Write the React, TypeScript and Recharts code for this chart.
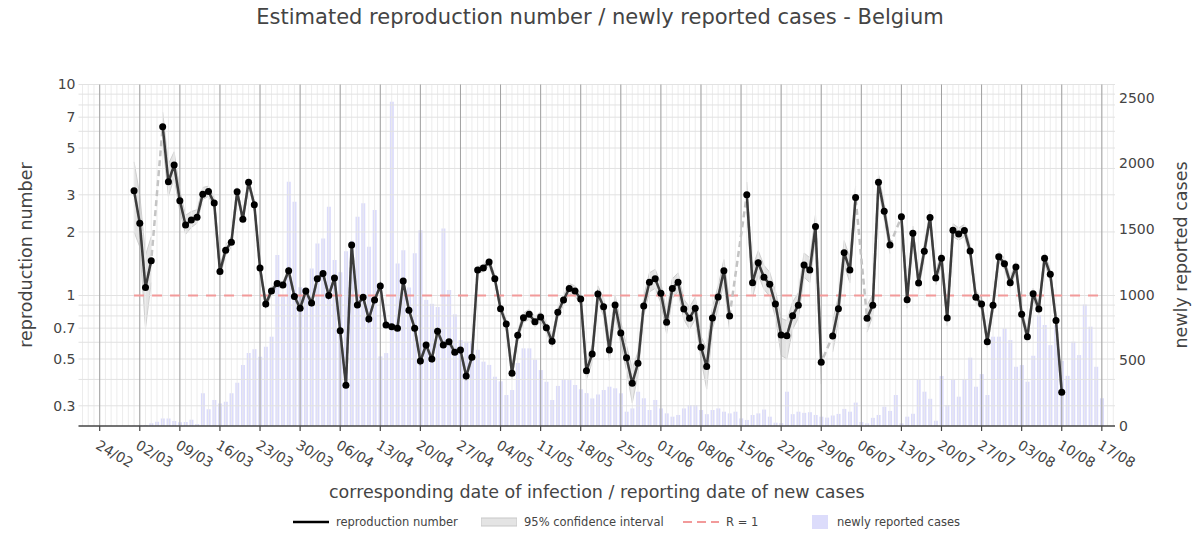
import { ComposedChart, Bar, Line, Area, XAxis, YAxis, ReferenceLine } from 'recharts'

// weekly date ticks, day 0 = 24/02/2020
const tickLabels = ['24/02','02/03','09/03','16/03','23/03','30/03','06/04','13/04','20/04','27/04','04/05','11/05','18/05','25/05','01/06','08/06','15/06','22/06','29/06','06/07','13/07','20/07','27/07','03/08','10/08','17/08']

// newly reported cases, one value per day from 24/02
const cases = [
  0,0,0,0,0,0,2,5,8,20,32,58,58,38,28,30,47,15,249,128,
  198,172,185,249,330,464,555,585,527,603,680,1301,984,1859,1707,1056,1018,1200,1390,1428,
  1669,1263,1170,1330,1410,1593,1695,1364,1644,530,555,2468,1238,1339,1055,1316,1491,960,930,906,
  1504,1035,850,654,642,645,580,490,465,375,340,236,274,480,591,591,505,426,337,198,
  305,356,350,312,280,250,210,240,274,299,287,249,109,134,261,211,122,198,134,96,
  71,84,134,160,160,122,90,122,134,109,96,109,58,46,84,96,125,71,25,22,
  261,90,109,100,105,84,71,64,80,92,130,109,178,30,20,62,84,147,115,236,
  20,71,93,356,261,207,40,380,160,356,223,356,520,299,395,236,680,680,743,654,
  451,464,337,534,845,769,616,768,496,382,642,540,925,756,451,211,
]

// reproduction number from day 6 (01/03) to day 168 (10/08); null = no estimate
const rFirstDay = 6
const rValues = [
  3.14,2.2,1.09,1.46,null,6.31,3.46,4.15,2.81,2.16,2.28,2.35,3.02,3.11,2.74,
  1.3,1.64,1.79,3.1,2.3,3.44,2.69,1.35,0.91,1.05,1.14,1.12,1.31,0.99,0.87,
  1.05,0.92,1.2,1.27,1.0,1.21,0.68,0.375,1.735,0.9,0.98,0.774,0.952,1.11,0.725,
  0.71,0.7,1.17,0.851,0.7,0.489,0.582,0.5,0.676,0.582,0.604,0.538,0.551,0.415,0.51,
  1.32,1.35,1.44,1.2,0.866,0.733,0.428,0.648,0.785,0.814,0.751,0.791,0.704,0.607,0.832,
  0.952,1.08,1.05,0.963,0.44,0.528,1.016,0.885,0.552,0.902,0.664,0.507,0.384,0.477,0.892,
  1.155,1.2,1.024,0.746,1.08,1.155,0.863,0.78,0.87,0.568,0.46,0.782,0.984,1.31,0.8,
  null,null,3.0,1.15,1.43,1.22,1.13,0.911,0.65,0.645,0.802,0.899,1.395,1.32,2.12,
  0.482,null,0.643,0.866,1.596,1.32,2.91,null,0.78,0.899,3.44,2.51,1.735,null,2.36,
  0.955,1.97,1.146,1.62,2.34,1.21,1.5,0.782,2.04,1.955,2.03,1.625,0.98,0.911,0.604,
  0.899,1.527,1.415,1.15,1.365,0.814,0.638,1.02,0.863,1.5,1.26,0.76,0.348,
]
const rLow = [
  2.0,1.7,0.7,1.15,null,5.3,2.95,3.6,2.5,1.95,2.1,2.2,2.85,2.95,2.6,
  1.22,1.55,1.7,2.96,2.2,3.3,2.58,1.3,0.87,1.01,1.1,1.08,1.27,0.96,0.84,
  1.02,0.89,1.17,1.24,0.97,1.18,0.66,0.36,1.69,0.88,0.96,0.755,0.93,1.085,0.705,
  0.69,0.68,1.14,0.83,0.68,0.474,0.565,0.484,0.656,0.564,0.585,0.52,0.533,0.398,0.49,
  1.27,1.3,1.38,1.15,0.83,0.7,0.4,0.615,0.745,0.77,0.71,0.75,0.665,0.57,0.79,
  0.9,1.02,0.99,0.91,0.4,0.48,0.93,0.8,0.49,0.81,0.59,0.44,0.31,0.42,0.8,
  1.04,1.08,0.92,0.66,0.97,1.04,0.77,0.69,0.77,0.5,0.36,0.69,0.87,1.15,0.68,
  null,null,2.6,0.98,1.25,1.07,0.99,0.79,0.52,0.5,0.69,0.78,1.22,1.15,1.85,
  0.38,null,0.54,0.75,1.4,1.15,2.55,null,0.67,0.8,3.15,2.3,1.58,null,2.18,
  0.87,1.82,1.06,1.5,2.17,1.12,1.4,0.72,1.9,1.83,1.9,1.52,0.92,0.855,0.565,
  0.845,1.44,1.335,1.085,1.29,0.765,0.6,0.96,0.815,1.41,1.19,0.715,0.325,
]
const rHigh = [
  4.3,3.0,1.55,1.9,null,7.4,4.2,4.8,3.15,2.4,2.5,2.55,3.25,3.3,2.9,
  1.38,1.74,1.89,3.25,2.41,3.6,2.8,1.41,0.95,1.09,1.18,1.16,1.35,1.02,0.9,
  1.08,0.95,1.23,1.3,1.03,1.24,0.7,0.39,1.78,0.92,1.0,0.793,0.975,1.135,0.745,
  0.73,0.72,1.2,0.872,0.72,0.504,0.6,0.516,0.696,0.6,0.623,0.556,0.569,0.432,0.53,
  1.37,1.4,1.5,1.25,0.9,0.77,0.458,0.682,0.825,0.86,0.795,0.835,0.745,0.645,0.876,
  1.005,1.14,1.11,1.02,0.485,0.58,1.11,0.97,0.62,1.0,0.75,0.58,0.45,0.54,0.99,
  1.28,1.33,1.14,0.84,1.2,1.28,0.96,0.88,0.98,0.64,0.56,0.88,1.11,1.48,0.94,
  null,null,3.45,1.35,1.63,1.39,1.29,1.05,0.78,0.76,0.93,1.03,1.59,1.51,2.42,
  0.6,null,0.76,0.99,1.82,1.51,3.3,null,0.9,1.01,3.75,2.74,1.9,null,2.55,
  1.05,2.13,1.24,1.75,2.52,1.3,1.61,0.85,2.19,2.09,2.17,1.74,1.05,0.97,0.645,
  0.955,1.62,1.5,1.22,1.445,0.865,0.68,1.08,0.915,1.59,1.335,0.81,0.375,
]

const rTicks = [0.3, 0.5, 0.7, 1, 2, 3, 5, 7, 10]
const rGrid = [0.3, 0.4, 0.5, 0.6, 0.7, 0.8, 0.9, 1, 2, 3, 4, 5, 6, 7, 8, 9, 10]
const caseTicks = [0, 500, 1000, 1500, 2000, 2500]
const dayDomain = [-3.7, 177.3]

const FONT = '"DejaVu Sans", Verdana, sans-serif'
const TXT = '#444'

const rows = cases.map((c, day) => {
  const i = day - rFirstDay
  const inR = i >= 0 && i < rValues.length
  const r = inR ? rValues[i] : null
  return {
    day,
    cases: c,
    r,
    ci: r == null ? null : [rLow[i], rHigh[i]],
    one: day >= rFirstDay ? 1 : null,
  }
})

const weekDays = tickLabels.map((_, i) => i * 7)
const allDays: number[] = []
for (let d = Math.ceil(dayDomain[0]); d <= Math.floor(dayDomain[1]); d++) allDays.push(d)

function DateTick({ x, y, payload }: any) {
  const label = tickLabels[Math.round(payload.value / 7)]
  const ax = x - 5
  const ay = y + 15
  return (
    <text x={ax} y={ay} transform={`rotate(30 ${ax} ${ay})`} fill={TXT} fontSize={14} fontFamily={FONT} textAnchor="start">
      {label}
    </text>
  )
}

const fmtR = (v: number) => String(v)

function LegendIcon({ kind }: { kind: string }) {
  return (
    <svg width={36} height={14} style={{ display: 'block' }}>
      {kind === 'line' && <line x1={0} y1={7} x2={36} y2={7} stroke="#000" strokeWidth={2.5} />}
      {kind === 'band' && <rect x={0} y={3} width={36} height={8} fill="#e4e4e4" stroke="#c8c8c8" strokeWidth={1} />}
      {kind === 'dash' && <line x1={0} y1={7} x2={36} y2={7} stroke="#f29a9a" strokeWidth={2} strokeDasharray="9 5" />}
      {kind === 'bar' && <rect x={18} y={0} width={16} height={14} fill="#dcdcfb" />}
    </svg>
  )
}

const legendItems = [
  { kind: 'line', label: 'reproduction number', left: 285 },
  { kind: 'band', label: '95% confidence interval', left: 473 },
  { kind: 'dash', label: 'R = 1', left: 675 },
  { kind: 'bar', label: 'newly reported cases', left: 786 },
]

export default function App() {
  const W = 1184
  const H = 535
  return (
    <div style={{ position: 'relative', width: W, height: H, fontFamily: FONT, color: TXT }}>
      <ComposedChart width={W} height={H} data={rows} margin={{ top: 76.5, right: 0, bottom: 57, left: 0 }}>
        <XAxis
          xAxisId="d"
          dataKey="day"
          type="number"
          domain={dayDomain}
          allowDataOverflow
          ticks={weekDays}
          interval={0}
          height={60}
          tick={<DateTick />}
          tickSize={5}
          tickMargin={2}
          axisLine={{ stroke: '#444', strokeWidth: 1.5 }}
          tickLine={{ stroke: '#444', strokeWidth: 1.2 }}
        />
        <YAxis
          yAxisId="r"
          orientation="left"
          type="number"
          scale="log"
          domain={[0.2406, 10]}
          allowDataOverflow
          ticks={rTicks}
          interval={0}
          tickFormatter={fmtR}
          width={70.5}
          axisLine={false}
          tickLine={false}
          tickSize={0}
          tickMargin={3}
          tick={{ fill: TXT, fontSize: 14, fontFamily: FONT }}
        />
        <YAxis
          yAxisId="c"
          orientation="right"
          type="number"
          domain={[0, 2600]}
          allowDataOverflow
          ticks={caseTicks}
          interval={0}
          width={77}
          axisLine={false}
          tickLine={false}
          tickSize={0}
          tickMargin={4}
          tick={{ fill: TXT, fontSize: 14, fontFamily: FONT, textAnchor: 'start' }}
        />

        {allDays.map(d => (
          <ReferenceLine key={'v' + d} xAxisId="d" yAxisId="r" x={d} stroke="#ececec" strokeWidth={1} />
        ))}
        {rGrid.map(v => (
          <ReferenceLine key={'h' + v} xAxisId="d" yAxisId="r" y={v} stroke="#e2e2e2" strokeWidth={1} />
        ))}
        {weekDays.map(d => (
          <ReferenceLine key={'w' + d} xAxisId="d" yAxisId="r" x={d} stroke="#a0a0a0" strokeWidth={1} />
        ))}

        <Bar xAxisId="d" yAxisId="c" dataKey="cases" barSize={4} fill="rgb(120,120,240)" fillOpacity={0.26} isAnimationActive={false} />
        <Area xAxisId="d" yAxisId="r" dataKey="ci" type="linear" stroke="#cfcfcf" strokeWidth={1} fill="#d8d8d8" fillOpacity={0.7} connectNulls={false} dot={false} activeDot={false} isAnimationActive={false} />
        <Line xAxisId="d" yAxisId="r" dataKey="one" type="linear" stroke="#f29a9a" strokeWidth={2} strokeDasharray="10 8" dot={false} activeDot={false} isAnimationActive={false} />
        <Line xAxisId="d" yAxisId="r" dataKey="r" type="linear" stroke="#c4c4c4" strokeWidth={2.5} strokeDasharray="6 4" connectNulls dot={false} activeDot={false} isAnimationActive={false} />
        <Line xAxisId="d" yAxisId="r" dataKey="r" type="linear" stroke="#3b3b3b" strokeWidth={2.5} connectNulls={false} dot={{ r: 3.5, fill: '#000', stroke: '#000', strokeWidth: 0 }} activeDot={false} isAnimationActive={false} />
      </ComposedChart>

      <div style={{ position: 'absolute', left: 0, top: -3, width: W, textAlign: 'center', fontSize: 21, lineHeight: '24px', whiteSpace: 'nowrap' }}>
        Estimated reproduction number / newly reported cases - Belgium
      </div>
      <div style={{ position: 'absolute', left: 70.5, top: 474, width: 1036.5, textAlign: 'center', fontSize: 17.5, lineHeight: '20px', whiteSpace: 'nowrap' }}>
        corresponding date of infection / reporting date of new cases
      </div>
      <div style={{ position: 'absolute', left: 18 - 150, top: 247 - 10, width: 300, height: 20, lineHeight: '20px', textAlign: 'center', fontSize: 17.5, transform: 'rotate(-90deg)', whiteSpace: 'nowrap' }}>
        reproduction number
      </div>
      <div style={{ position: 'absolute', left: 1173 - 150, top: 247 - 10, width: 300, height: 20, lineHeight: '20px', textAlign: 'center', fontSize: 17.5, transform: 'rotate(-90deg)', whiteSpace: 'nowrap' }}>
        newly reported cases
      </div>
      {legendItems.map(it => (
        <div key={it.label} style={{ position: 'absolute', left: it.left, top: 507, display: 'flex', alignItems: 'center', gap: 7, fontSize: 11.5, whiteSpace: 'nowrap' }}>
          <LegendIcon kind={it.kind} />
          <span>{it.label}</span>
        </div>
      ))}
    </div>
  )
}
